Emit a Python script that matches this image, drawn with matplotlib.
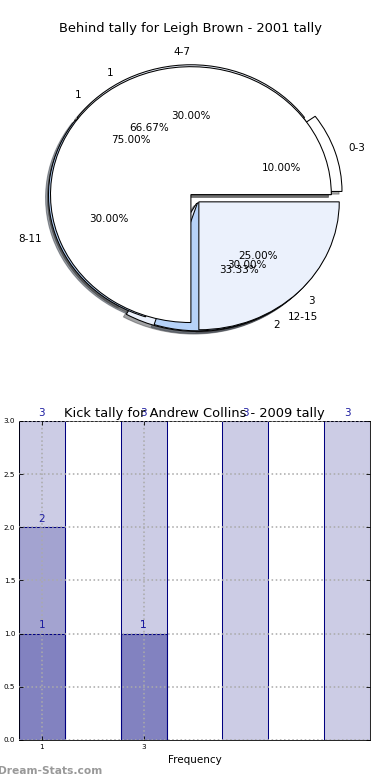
import matplotlib
matplotlib.use('Agg')
import matplotlib.pyplot as plt

# pie data (three tallies drawn on top of each other)
second_labels = ['1', '2']
second_values = [2, 1]
second_explode = [0, 0.08]
second_colors = ['white', '#ebf1fc']

behind_labels = ['0-3', '4-7', '8-11', '12-15']
behind_values = [1, 3, 3, 3]
behind_explode = [0.08, 0.015, 0.015, 0.08]
behind_colors = ['white', '#ebf1fc', '#b6d2f8', '#b6d2f8']

third_labels = ['1', '3']
third_values = [3, 1]
third_explode = [0, 0.08]
third_colors = ['white', '#ebf1fc']

# bar data
bar_x = [1, 3, 5, 7]
bar_all = [3, 3, 3, 3]
bar_mid = [2, 1]
bar_low = [1, 1]
xtick_labels = ['1', '3']

plt.rcParams['font.size'] = 10

fig = plt.figure(figsize=(5.2, 10.4), dpi=75)

ax1 = fig.add_axes([0.0395, 0.5455, 0.9, 0.41])
wedge_kw = {'edgecolor': 'black', 'linewidth': 1}
for vals, labs, expl, cols in [
        (second_values, second_labels, second_explode, second_colors),
        (behind_values, behind_labels, behind_explode, behind_colors),
        (third_values, third_labels, third_explode, third_colors)]:
    ax1.pie(vals, labels=labs, explode=expl, colors=cols, autopct='%1.2f%%',
            shadow=True, wedgeprops=wedge_kw)
ax1.set_aspect('auto')
ax1.set_xlim(-1.25, 1.25)
ax1.set_ylim(-1.25, 1.25)
ax1.set_title('Behind tally for Leigh Brown - 2001 tally', fontsize=12.5, pad=-3)

ax2 = fig.add_axes([0.0487, 0.0513, 0.9, 0.409])
face = (0, 0, 0.5, 0.2)
for heights in [bar_all, bar_mid, bar_low]:
    xs = bar_x[:len(heights)]
    ax2.bar(xs, heights, width=0.9, color=face, edgecolor='navy', linewidth=1)
    for x, h in zip(xs, heights):
        ax2.text(x, h + 0.03, str(h), ha='center', va='bottom',
                 color='#1c1ca0', fontsize=10)
ax2.set_xlim(0.55, 7.45)
ax2.set_ylim(0, 3)
ax2.set_xticks(bar_x[:len(xtick_labels)])
ax2.set_xticklabels(xtick_labels)
ax2.set_yticks([0, 0.5, 1.0, 1.5, 2.0, 2.5, 3.0])
ax2.tick_params(labelsize=7, direction='in', top=True, right=True, length=4)
ax2.grid(True, linestyle=':', color='#aaaaaa', linewidth=1.5)
ax2.set_axisbelow(False)
ax2.set_xlabel('Frequency', labelpad=5)
ax2.set_title('Kick tally for Andrew Collins - 2009 tally', fontsize=12.5, pad=4)

fig.text(-0.005, 0.008, 'Dream-Stats.com', color='#999999', fontsize=10.2,
         fontweight='bold')

fig.savefig('out.png', dpi=75)
